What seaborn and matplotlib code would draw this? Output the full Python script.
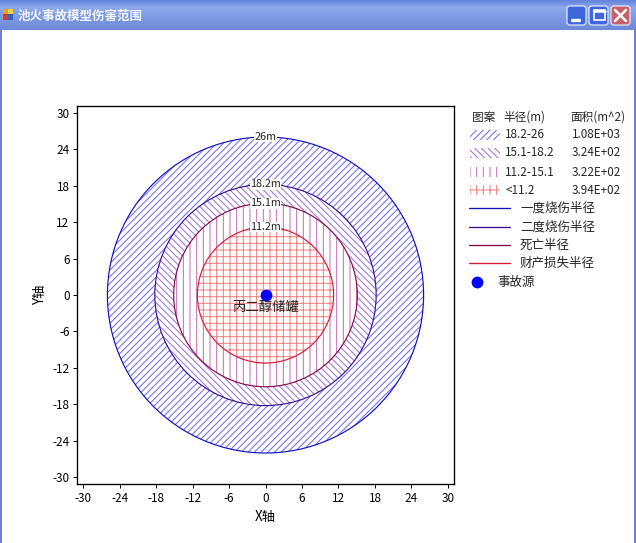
import numpy as np
import matplotlib
matplotlib.use("Agg")
import matplotlib.pyplot as plt
from matplotlib.patches import Circle, Rectangle, FancyBboxPatch
from matplotlib.colors import LinearSegmentedColormap
import seaborn as sns

# 池火事故伤害范围 data
radii = [26, 18.2, 15.1, 11.2]
radius_labels = ["26m", "18.2m", "15.1m", "11.2m"]
zone_ranges = ["18.2-26", "15.1-18.2", "11.2-15.1", "<11.2"]
zone_areas = ["1.08E+03", "3.24E+02", "3.22E+02", "3.94E+02"]
radius_names = ["一度烧伤半径", "二度烧伤半径", "死亡半径", "财产损失半径"]
source_x = [0]
source_y = [0]
source_name = "事故源"
tank_name = "丙二醇储罐"
window_title = "池火事故模型伤害范围"
ticks = list(range(-30, 31, 6))

# diagonal hatches count half as dense as straight ones
hatches = ["/" * 6, "\\" * 6, "|||", "+++"]
hatch_colors = ["#6a6af0", "#9a70d4", "#c470b0", "#f08080"]
line_colors = ["#1010c0", "#3a1090", "#850a4a", "#d81a3a"]

sns.set_theme(style="ticks")
plt.rcParams['font.family'] = ['Noto Sans CJK SC', 'DejaVu Sans']
plt.rcParams['axes.unicode_minus'] = False
plt.rcParams['hatch.linewidth'] = 0.6

fig = plt.figure(figsize=(5.3, 4.525), dpi=120)
fig.patch.set_facecolor('white')
ax = fig.add_axes([77/636, 59/543, 377/636, 378/543])
ax.set_facecolor('white')

# hatched zones, biggest first so inner ones cover
for r, h, hc in zip(radii, hatches, hatch_colors):
    ax.add_patch(Circle((0, 0), r, facecolor='white', edgecolor=hc,
                        hatch=h, linewidth=0, zorder=1))
for r, lc in zip(radii, line_colors):
    ax.add_patch(Circle((0, 0), r, fill=False, edgecolor=lc,
                        linewidth=0.7, zorder=2))
for r, lab in zip(radii, radius_labels):
    ax.text(0, r, lab, ha='center', va='center', fontsize=6.5, zorder=3,
            bbox=dict(facecolor='white', edgecolor='none', pad=0.2))

sns.scatterplot(x=source_x, y=source_y, color='#0000ff', s=50,
                linewidth=0, ax=ax, zorder=4, legend=False)
ax.text(0, -0.9, tank_name, ha='center', va='top', fontsize=8, zorder=4)

ax.set_xlim(-31, 31)
ax.set_ylim(-31.1, 31.1)
ax.set_xticks(ticks)
ax.set_yticks(ticks)
ax.tick_params(labelsize=7, length=2.5, width=0.6, color='black',
               labelcolor='black', pad=2)
for s in ax.spines.values():
    s.set_visible(True)
    s.set_color('black')
    s.set_linewidth(0.8)
ax.set_xlabel("X轴", fontsize=8, labelpad=3, color='black')
ax.set_ylabel("Y轴", fontsize=8, labelpad=3, color='black')

# overlay in pixel units for window chrome and the legend table
oax = fig.add_axes([0, 0, 1, 1], zorder=5)
oax.set_facecolor('none')
oax.axis('off')

cm = LinearSegmentedColormap.from_list(
    'bar', ['#6585dc', '#8ea9ec', '#7f9ce4', '#7894de', '#6e8ad6'])
grad = np.linspace(0, 1, 30).reshape(-1, 1)
oax.imshow(grad, extent=[0, 636, 30, 0], cmap=cm, aspect='auto')
oax.text(18, 16, window_title, color='#f4f6ff', fontsize=7.5,
         fontweight='bold', ha='left', va='center')
oax.add_patch(Rectangle((3, 9), 5, 5, facecolor='#e8a030', lw=0))
oax.add_patch(Rectangle((8, 9), 5, 5, facecolor='#f0d040', lw=0))
oax.add_patch(Rectangle((3, 14), 5, 6, facecolor='#d04020', lw=0))
oax.add_patch(Rectangle((8, 14), 5, 6, facecolor='#3060c0', lw=0))
for bx, fc in [(567, '#3d66dc'), (589, '#3d66dc'), (611, '#c8606a')]:
    oax.add_patch(FancyBboxPatch((bx, 6), 19, 19,
                                 boxstyle="round,pad=0,rounding_size=3",
                                 facecolor=fc, edgecolor='#e8eeff', lw=0.7))
oax.plot([572, 579], [20, 20], color='white', lw=2)
oax.add_patch(Rectangle((593.5, 10), 11, 10, fill=False, edgecolor='white', lw=1))
oax.plot([593.5, 604.5], [11, 11], color='white', lw=1.5)
oax.plot([615, 626], [10, 21], color='white', lw=1.5)
oax.plot([615, 626], [21, 10], color='white', lw=1.5)
oax.plot([1, 1], [30, 543], color='#7080d0', lw=1.2)
oax.plot([635, 635], [30, 543], color='#7080d0', lw=1.2)

# legend table
fs = 7
oax.text(472, 117, "图案", fontsize=fs, ha='left', va='center')
oax.text(503, 117, "半径(m)", fontsize=fs, ha='left', va='center')
oax.text(570, 117, "面积(m^2)", fontsize=fs, ha='left', va='center')
row_y = [135, 153, 172, 190]
for y, h, hc, rng, area in zip(row_y, hatches, hatch_colors, zone_ranges, zone_areas):
    oax.add_patch(Rectangle((470, y - 5), 30, 10, facecolor='white',
                            edgecolor=hc, hatch=h, lw=0))
    oax.text(505, y, rng, fontsize=fs, ha='left', va='center')
    oax.text(572, y, area, fontsize=fs, ha='left', va='center')
line_y = [208, 227, 245, 263]
for y, lc, name in zip(line_y, line_colors, radius_names):
    oax.plot([469, 510], [y, y], color=lc, lw=0.8)
    oax.text(520, y, name, fontsize=fs + 0.5, ha='left', va='center')
oax.scatter([477], [282], color='#0000ff', s=50, linewidths=0)
oax.text(497, 282, source_name, fontsize=fs + 0.5, ha='left', va='center')

oax.set_xlim(0, 636)
oax.set_ylim(543, 0)

fig.savefig("out.png", dpi=120)
